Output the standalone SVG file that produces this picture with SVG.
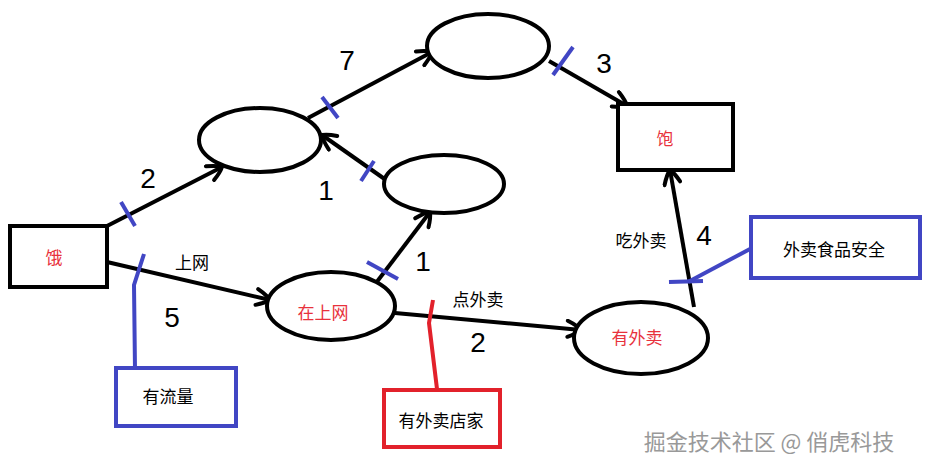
<svg xmlns="http://www.w3.org/2000/svg" width="937" height="470" viewBox="0 0 937 470">
<defs>
<marker id="arr" viewBox="0 0 20 20" refX="18" refY="10" markerWidth="20" markerHeight="20" markerUnits="userSpaceOnUse" orient="auto">
<path d="M4 2 Q14 6 18 10 Q14 14 5 18" fill="none" stroke="#000" stroke-width="4" stroke-linecap="round"/>
</marker>
</defs>
<style>
.n{fill:#fff;stroke:#000;stroke-width:4}
.e{stroke:#000;stroke-width:4;fill:none;marker-end:url(#arr)}
.b{stroke:#4146c4;stroke-width:4;fill:none}
.r{stroke:#e2212b;stroke-width:4;fill:none}
.lab{font-family:"Noto Sans CJK SC","Liberation Sans",sans-serif;font-size:17px;fill:#e8323c;text-anchor:middle;dominant-baseline:central}
.t{font-family:"Noto Sans CJK SC","Liberation Sans",sans-serif;font-size:17px;fill:#000;text-anchor:middle;dominant-baseline:central}
.num{font-family:"Liberation Sans",sans-serif;font-size:28px;fill:#000;text-anchor:middle;dominant-baseline:central}
</style>
<g id="connectors">
<line class="e" x1="107" y1="226" x2="222" y2="167"/>
<line class="e" x1="107" y1="262" x2="270" y2="300"/>
<line class="e" x1="376" y1="283" x2="430" y2="212"/>
<line class="e" x1="386" y1="180" x2="322" y2="135"/>
<line class="e" x1="308" y1="118" x2="432" y2="52"/>
<line class="e" x1="549" y1="61" x2="627" y2="106"/>
<line class="e" x1="395" y1="313" x2="581" y2="330"/>
<line class="e" x1="694" y1="307" x2="670" y2="170"/>
<line class="b" x1="121" y1="202" x2="135" y2="226"/>
<path class="b" d="M144 254 L134 285 L135 370"/>
<line class="b" x1="322" y1="97" x2="338" y2="118"/>
<line class="b" x1="361" y1="181" x2="374" y2="161"/>
<line class="b" x1="367" y1="262" x2="398" y2="279"/>
<line class="b" x1="553" y1="75" x2="573" y2="47"/>
<line class="b" x1="669" y1="282" x2="703" y2="281"/>
<line class="b" x1="688" y1="282" x2="750" y2="249"/>
<path class="r" d="M433 300 L429 323 L437 389"/>
</g>
<g id="n-e">
<rect class="n" x="10" y="226" width="97" height="61"/>
<text class="lab" x="54" y="256">饿</text>
</g>
<g id="n-a">
<ellipse class="n" cx="260" cy="140" rx="61" ry="32"/>
</g>
<g id="n-top">
<ellipse class="n" cx="488" cy="46" rx="61" ry="32"/>
</g>
<g id="n-small">
<ellipse class="n" cx="444" cy="184" rx="60" ry="29"/>
</g>
<g id="n-full">
<rect class="n" x="618" y="104" width="115" height="66"/>
<text class="lab" x="665" y="137">饱</text>
</g>
<g id="n-net">
<ellipse class="n" cx="331" cy="306" rx="64" ry="34"/>
<text class="lab" x="323" y="311">在上网</text>
</g>
<g id="n-take">
<ellipse class="n" cx="641" cy="338" rx="67" ry="36"/>
<text class="lab" x="637" y="336">有外卖</text>
</g>
<g id="n-flow">
<rect x="116" y="368" width="120" height="58" fill="#fff" stroke="#4146c4" stroke-width="4"/>
<text class="t" x="168" y="395">有流量</text>
</g>
<g id="n-shop">
<rect x="384" y="390" width="116" height="57" fill="#fff" stroke="#e2212b" stroke-width="4"/>
<text class="t" x="441" y="419">有外卖店家</text>
</g>
<g id="n-safe">
<rect x="751" y="217" width="169" height="61" fill="#fff" stroke="#4146c4" stroke-width="4"/>
<text class="t" x="834" y="248">外卖食品安全</text>
</g>
<g id="labels">
<text class="num" x="148" y="178">2</text>
<text class="t" x="192" y="261" font-size="16">上网</text>
<text class="num" x="172" y="317">5</text>
<text class="num" x="347" y="60">7</text>
<text class="num" x="326" y="190">1</text>
<text class="num" x="423" y="261">1</text>
<text class="num" x="604" y="63">3</text>
<text class="t" x="478" y="298" font-size="16">点外卖</text>
<text class="num" x="478" y="342">2</text>
<text class="t" x="641" y="239" font-size="16">吃外卖</text>
<text class="num" x="704" y="235">4</text>
</g>
<text x="769" y="440" font-family="'Noto Sans CJK SC',sans-serif" font-size="22" fill="#999" text-anchor="middle" dominant-baseline="central">掘金技术社区 @ 俏虎科技</text>
</svg>
